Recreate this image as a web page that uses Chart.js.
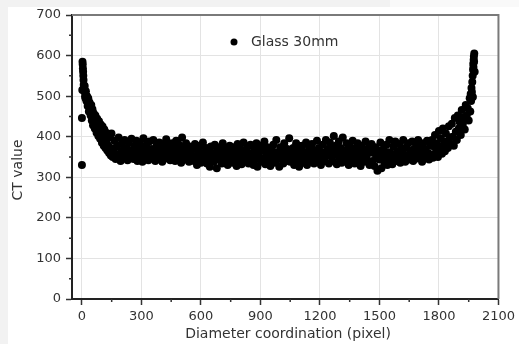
<!DOCTYPE html>
<html>
<head>
<meta charset="utf-8">
<script src="https://cdn.jsdelivr.net/npm/chart.js@4.4.1/dist/chart.umd.min.js"></script>
<style>
  html, body { margin: 0; padding: 0; background: #fff; }
  #wrap { width: 519px; height: 344px; }
</style>
</head>
<body>
<div id="wrap"><canvas id="ct" width="519" height="344"></canvas></div>
<script>
// Glass 30mm — CT value along the diameter
var seriesLabel = 'Glass 30mm';
var xTicks = [0, 300, 600, 900, 1200, 1500, 1800, 2100];
var yTicks = [0, 100, 200, 300, 400, 500, 600, 700];
var xMinor = [150, 450, 750, 1050, 1350, 1650, 1950];
var yMinor = [50, 150, 250, 350, 450, 550, 650];

// left edge (steep part)
var leftX = [0, 0, 2, 3, 4, 5, 6, 7, 8, 9, 10, 12, 14, 16, 18,
  20, 23, 26, 29, 32, 35, 38, 41, 44, 47, 50, 53, 56, 59, 62, 65, 68, 71, 74, 77,
  80, 83, 86, 89, 92, 95, 98, 101, 104, 107, 110, 113, 116, 119, 122, 125, 128,
  131, 134, 137, 140, 143, 146, 149, 152, 155];
var leftY = [330, 446, 515, 585, 578, 568, 560, 550, 540, 528, 520, 512, 525, 500, 495,
  512, 488, 500, 476, 495, 462, 485, 470, 452, 478, 440, 468, 428, 458, 446, 420, 452, 432, 410, 444,
  424, 402, 438, 416, 395, 430, 408, 385, 425, 400, 378, 418, 392, 372, 410, 384, 366,
  404, 378, 360, 398, 372, 354, 408, 366, 350];

// flat middle, every 5 px from 160 to 1955 (one row = 100 px)
var midStart = [160, 260, 360, 460, 560, 660, 760, 860, 960, 1060, 1160, 1260,
  1360, 1460, 1560, 1660, 1760, 1860];
var midRows = [
  [362, 390, 345, 375, 352, 398, 358, 340, 382, 366, 348, 392, 355, 372, 342, 386, 360, 350, 395, 368],
  [345, 378, 358, 390, 340, 366, 384, 352, 372, 338, 396, 360, 348, 380, 364, 342, 388, 356, 370, 346],
  [392, 358, 340, 376, 364, 348, 386, 354, 370, 338, 382, 360, 346, 394, 366, 350, 378, 342, 362, 384],
  [352, 372, 340, 390, 358, 346, 380, 364, 336, 398, 356, 370, 344, 384, 350, 362, 338, 376, 358, 346],
  [370, 340, 382, 352, 330, 366, 348, 378, 336, 360, 386, 344, 356, 372, 334, 364, 350, 326, 376, 346],
  [360, 338, 380, 352, 322, 368, 344, 374, 356, 334, 384, 348, 362, 340, 372, 330, 358, 378, 346, 366],
  [336, 374, 350, 362, 328, 382, 344, 358, 370, 332, 352, 386, 340, 364, 348, 376, 334, 360, 380, 346],
  [356, 330, 372, 344, 384, 326, 362, 350, 378, 338, 366, 346, 388, 332, 358, 374, 342, 364, 328, 370],
  [350, 380, 336, 362, 392, 344, 358, 326, 374, 348, 366, 334, 384, 352, 340, 370, 356, 396, 338, 362],
  [346, 372, 330, 360, 384, 342, 354, 326, 368, 350, 378, 336, 362, 344, 386, 330, 356, 372, 340, 364],
  [382, 348, 334, 366, 356, 390, 338, 372, 346, 330, 362, 380, 350, 340, 392, 358, 370, 334, 386, 352],
  [368, 340, 402, 356, 378, 332, 362, 388, 346, 372, 336, 398, 354, 366, 342, 384, 350, 330, 376, 360],
  [344, 390, 356, 334, 372, 350, 384, 340, 362, 328, 378, 352, 366, 338, 388, 346, 358, 372, 330, 364],
  [382, 340, 360, 328, 374, 350, 316, 366, 344, 386, 322, 356, 370, 336, 348, 380, 330, 362, 392, 342],
  [358, 332, 376, 348, 388, 340, 364, 352, 382, 336, 370, 346, 392, 356, 338, 374, 350, 384, 344, 366],
  [352, 388, 340, 370, 358, 380, 346, 392, 362, 348, 376, 338, 384, 356, 368, 350, 390, 360, 344, 378],
  [356, 392, 348, 376, 404, 362, 384, 350, 414, 372, 396, 358, 420, 380, 364, 408, 388, 372, 426, 398],
  [382, 432, 400, 378, 446, 412, 392, 452, 420, 436, 404, 466, 430, 448, 418, 478, 452, 470, 440, 495]];

// right edge (steep part)
var rightX = [1958, 1960, 1962, 1964, 1966, 1968, 1970, 1971, 1972, 1973, 1974, 1975, 1976, 1977, 1978, 1980];
var rightY = [462, 505, 488, 520, 510, 535, 550, 498, 565, 580, 572, 590, 598, 585, 605, 560];

var points = [];
leftX.forEach(function(x, i) { points.push({x: x, y: leftY[i]}); });
midRows.forEach(function(row, r) {
  row.forEach(function(v, i) { points.push({x: midStart[r] + i * 5, y: v}); });
});
rightX.forEach(function(x, i) { points.push({x: x, y: rightY[i]}); });

var FONT = 'DejaVu Sans';
var TXT  = '#333';

// page background strips, frame, minor ticks, axis titles, legend
var decor = {
  id: 'decor',
  beforeDraw: function(c) {
    var ctx = c.ctx;
    ctx.save();
    ctx.fillStyle = '#fff';
    ctx.fillRect(0, 0, c.width, c.height);
    ctx.fillStyle = '#f2f2f2';
    ctx.fillRect(0, 0, 8, c.height);
    ctx.fillRect(0, 0, 390, 7);
    ctx.fillStyle = '#f9f9f9';
    ctx.fillRect(390, 0, c.width - 390, 7);
    ctx.restore();
  },
  afterDraw: function(c) {
    var ctx = c.ctx, a = c.chartArea, x = c.scales.x, y = c.scales.y;
    ctx.save();
    // top + right frame
    ctx.strokeStyle = '#7a7a7a';
    ctx.lineWidth = 2;
    ctx.beginPath();
    ctx.moveTo(a.left, a.top); ctx.lineTo(a.right, a.top); ctx.lineTo(a.right, a.bottom);
    ctx.stroke();
    // minor ticks
    ctx.strokeStyle = '#333';
    ctx.lineWidth = 1.5;
    ctx.beginPath();
    xMinor.forEach(function(v) {
      var px = x.getPixelForValue(v);
      ctx.moveTo(px, a.bottom); ctx.lineTo(px, a.bottom + 3);
    });
    yMinor.forEach(function(v) {
      var py = y.getPixelForValue(v);
      ctx.moveTo(a.left, py); ctx.lineTo(a.left - 3, py);
    });
    ctx.stroke();
    // axis titles
    ctx.fillStyle = TXT;
    ctx.font = '14px "' + FONT + '"';
    ctx.textAlign = 'center';
    ctx.textBaseline = 'middle';
    ctx.fillText('Diameter coordination (pixel)', 288, 334);
    ctx.translate(18, 170);
    ctx.rotate(-Math.PI / 2);
    ctx.fillText('CT value', 0, 0);
    ctx.restore();
    // legend
    ctx.save();
    ctx.fillStyle = '#000';
    ctx.beginPath();
    ctx.arc(234, 42, 3.5, 0, Math.PI * 2);
    ctx.fill();
    ctx.fillStyle = TXT;
    ctx.font = '14px "' + FONT + '"';
    ctx.textBaseline = 'middle';
    ctx.fillText(seriesLabel, 251, 42);
    ctx.restore();
  }
};

var plain = function(v) { return String(v); };

new Chart(document.getElementById('ct'), {
  type: 'scatter',
  data: {
    datasets: [{
      label: seriesLabel,
      data: points,
      backgroundColor: '#000',
      borderWidth: 0,
      pointRadius: 4,
      pointHoverRadius: 4
    }]
  },
  plugins: [decor],
  options: {
    responsive: false,
    animation: false,
    events: [],
    layout: {padding: {top: 15, right: 15, left: 0, bottom: 0}},
    plugins: {legend: {display: false}, tooltip: {enabled: false}},
    scales: {
      x: {
        type: 'linear', min: -50, max: 2100,
        afterBuildTicks: function(s) { s.ticks = xTicks.map(function(v) { return {value: v}; }); },
        afterFit: function(s) { s.height = 45; },
        grid: {color: '#e3e3e3', lineWidth: 1, tickColor: '#333', tickLength: 6, tickWidth: 1.5},
        border: {color: '#222', width: 2},
        ticks: {color: TXT, font: {family: FONT, size: 13}, padding: 4, maxRotation: 0, autoSkip: false, callback: plain}
      },
      y: {
        type: 'linear', min: 0, max: 700,
        afterBuildTicks: function(s) { s.ticks = yTicks.map(function(v) { return {value: v}; }); },
        afterFit: function(s) { s.width = 72; },
        grid: {color: '#e3e3e3', lineWidth: 1, tickColor: '#333', tickLength: 6, tickWidth: 1.5},
        border: {color: '#222', width: 2},
        ticks: {color: TXT, font: {family: FONT, size: 13}, padding: 5, autoSkip: false, callback: plain}
      }
    }
  }
});
</script>
</body>
</html>
